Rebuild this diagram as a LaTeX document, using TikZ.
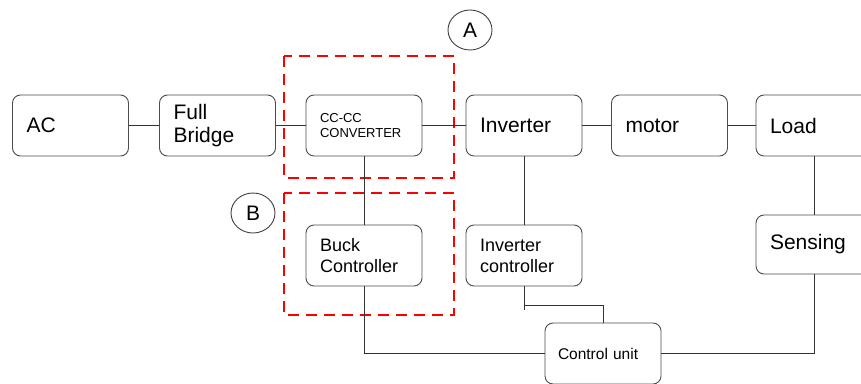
\documentclass[tikz,border=0pt]{standalone}
\usepackage{fontspec}
\setmainfont{Liberation Sans}
\usetikzlibrary{shapes.geometric}

\tikzset{
    block/.style={draw=black!70, rounded corners=8pt, line width=0.9pt, minimum width=116pt, minimum height=61pt, text width=88pt, inner xsep=14pt, align=left, font=\fontsize{21}{23}\selectfont},
    small block/.style={block, font=\fontsize{18}{21}\selectfont},
    link/.style={draw=black!80, line width=0.9pt},
    zone/.style={draw=red, line width=2.4pt, dash pattern=on 11pt off 7pt},
    tag/.style={draw=black!75, ellipse, line width=0.9pt, minimum width=44pt, minimum height=40pt, inner sep=0pt, font=\fontsize{21}{24}\selectfont}
}

\begin{document}
\begin{tikzpicture}[x=1pt, y=-1pt]
        \useasboundingbox (0,0) rectangle (861,383);

        % Power path
        \node[block] (ac) at (70.5,125.5) {AC};
        \node[block] (bridge) at (217.5,125.5) {Full\\Bridge};
        \node[block, font=\fontsize{13}{15}\selectfont] (conv) at (364,125.5) {CC-CC\\CONVERTER};
        \node[block] (inv) at (524,125.5) {Inverter};
        \node[block] (motor) at (669.5,125.5) {motor};
        \node[block] (load) at (814,125.5) {Load};

        % Control blocks
        \node[small block] (buck) at (364,255.5) {Buck\\Controller};
        \node[small block] (invctrl) at (524,255.5) {Inverter\\controller};
        \node[block, minimum height=59pt] (sense) at (814,244.5) {Sensing};
        \node[block, font=\fontsize{15.5}{18}\selectfont, inner xsep=13pt, text width=90pt] (ctrl) at (603,353.5) {Control unit};

        % Marked zones
        \draw[zone] (284,56) rectangle (454,178);
        \draw[zone] (284,193) rectangle (454,315);
        \node[tag] (tagA) at (470,30) {A};
        \node[tag] (tagB) at (253,213) {B};

        % Links
        \draw[link] (ac) -- (bridge);
        \draw[link] (bridge) -- (conv);
        \draw[link] (conv) -- (inv);
        \draw[link] (inv) -- (motor);
        \draw[link] (motor) -- (load);
        \draw[link] (conv) -- (buck);
        \draw[link] (inv) -- (invctrl);
        \draw[link] (load) -- (sense);
        \draw[link] (buck.south) |- (ctrl.west);
        \draw[link] (sense.south) |- (ctrl.east);
        \coordinate (join) at (524,305);
        \draw[link] (invctrl.south) -- ++(0,24);
        \draw[link] (join) -| (ctrl.north);
    \end{tikzpicture}
\end{document}
